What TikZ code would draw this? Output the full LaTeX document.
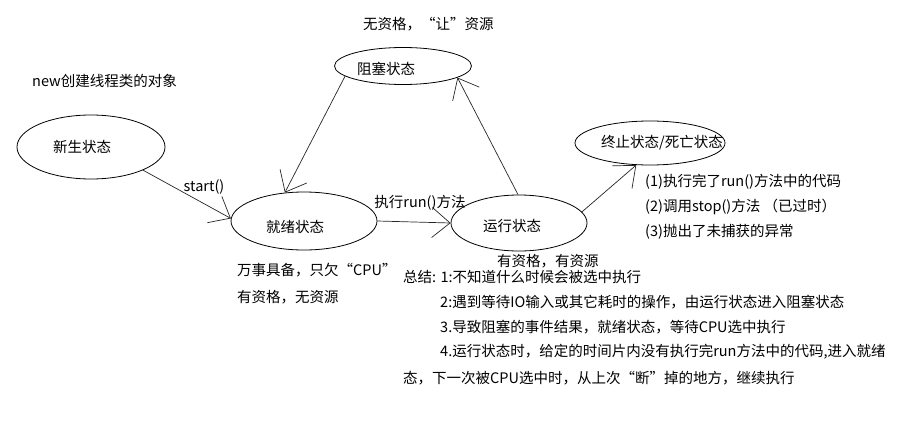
\documentclass[tikz,border=0pt]{standalone}
\usepackage{fontspec}
\setmainfont{Noto Sans CJK SC}
\usetikzlibrary{shapes.geometric,arrows.meta}

% label set off from the ellipse centre, without widening the ellipse
\newcommand{\offtext}[3]{\makebox[0pt]{\hspace*{#1}\raisebox{#2}[\height][\depth]{#3}}}

\begin{document}
\begin{tikzpicture}[x=1pt, y=-1pt, font=\fontsize{14.5}{17}\selectfont,
  state/.style={draw, ellipse, inner sep=0pt, line width=0.8pt},
  arr/.style={draw=black!85, line width=0.7pt, -{Straight Barb[length=18pt,width=30pt]}},
  txt/.style={anchor=west, inner sep=0pt}]
  \useasboundingbox (0,0) rectangle (900,423);
  % states
  \node[state, minimum width=148pt, minimum height=64pt] (xinsheng) at (91,147) {\offtext{-18pt}{0pt}{新生状态}};
  \node[state, minimum width=137pt, minimum height=37pt] (zuse) at (403,66) {\offtext{-34pt}{-3pt}{阻塞状态}};
  \node[state, minimum width=146pt, minimum height=58pt] (jiuxu) at (304,221) {\offtext{-18pt}{-6pt}{就绪状态}};
  \node[state, minimum width=136pt, minimum height=56pt] (yunxing) at (519,223) {\offtext{-14pt}{-3pt}{运行状态}};
  \node[state, minimum width=150pt, minimum height=44pt] (zhongzhi) at (650,143) {\offtext{24pt}{0pt}{终止状态/死亡状态}};
  % transitions
  \draw[arr] (xinsheng.-24) -- (jiuxu.178);
  \draw[arr] (zuse.190) -- (jiuxu.124);
  \draw[arr] (jiuxu.east) -- (yunxing.west);
  \draw[arr] (yunxing.92) -- (zuse.-12);
  \draw[arr] (yunxing.10) -- (zhongzhi.-122);
  \node (lstart) at (204,187) {start()};
  \node (lrun) at (420,203) {执行run()方法};
  % notes
  \node[txt] (nzuse) at (363,24) {无资格，“让”资源};
  \node[txt] (nnew) at (32,81) {new创建线程类的对象};
  \node[txt] (njx1) at (237,270) {万事具备，只欠“CPU”};
  \node[txt] (njx2) at (237,297) {有资格，无资源};
  \node[txt] (nyx) at (497,261) {有资格，有资源};
  \node[txt] (nzz1) at (645,182) {(1)执行完了run()方法中的代码};
  \node[txt] (nzz2) at (645,207) {(2)调用stop()方法\ （已过时）};
  \node[txt] (nzz3) at (645,232) {(3)抛出了未捕获的异常};
  % summary
  \node[txt] (sum1) at (403,277) {总结: 1:不知道什么时候会被选中执行};
  \node[txt] (sum2) at (440,302) {2:遇到等待IO输入或其它耗时的操作，由运行状态进入阻塞状态};
  \node[txt] (sum3) at (440,327) {3.导致阻塞的事件结果，就绪状态，等待CPU选中执行};
  \node[txt] (sum4) at (440,352) {4.运行状态时，给定的时间片内没有执行完run方法中的代码,进入就绪};
  \node[txt] (sum5) at (403,378) {态，下一次被CPU选中时，从上次“断”掉的地方，继续执行};
\end{tikzpicture}
\end{document}
